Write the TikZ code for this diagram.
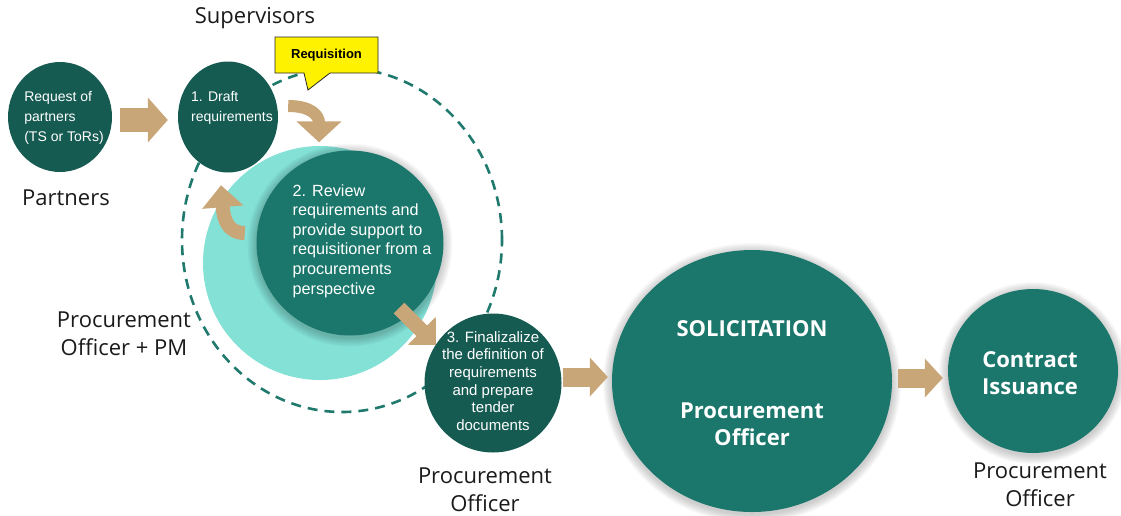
\documentclass[tikz,border=0pt]{standalone}
\usepackage{fontspec}
\setmainfont{Open Sans}
\newfontfamily\stepfont{Liberation Sans}
\usetikzlibrary{shapes.geometric,shapes.callouts,arrows.meta,calc}
\definecolor{darkteal}{HTML}{165B52}
\definecolor{midteal}{HTML}{1B776B}
\definecolor{lightteal}{HTML}{83E1D6}
\definecolor{arrowtan}{HTML}{C9A678}
\definecolor{dashteal}{HTML}{1F7A6D}
\definecolor{labelgray}{HTML}{1A1A1A}
% soft halo: stacked translucent ellipses around a centre (#1), radii #2 and #3
\newcommand\softhalo[3]{%
  \foreach \k in {1,...,9}{
    \fill[black, opacity=0.022] ($(#1)+(0,2)$) ellipse [x radius=#2+\k, y radius=#3+\k];
  }}
\begin{document}
\begin{tikzpicture}[x=1pt,y=-1pt,
  disc/.style={ellipse, inner sep=0pt, draw=none},
  darkdisc/.style={disc, fill=darkteal},
  middisc/.style={disc, fill=midteal},
  steptext/.style={text=white, font=\stepfont\fontsize{14}{20}\selectfont, inner sep=0pt},
  role/.style={text=labelgray, font=\fontsize{22}{28}\selectfont, align=center, inner sep=0pt},
  boldtext/.style={text=white, font=\bfseries\fontsize{22}{27}\selectfont, align=center, inner sep=0pt},
  bigarrow/.style={draw=arrowtan, line width=24pt, -{Triangle[width=44pt,length=20pt]}},
  midarrow/.style={draw=arrowtan, line width=19pt, -{Triangle[width=38pt,length=18pt]}},
  bendarrow/.style={draw=arrowtan, line width=12pt, -{Triangle[width=44pt,length=21pt]}},
]
\useasboundingbox (0,0) rectangle (1121,515);

% centres of the discs that carry a halo
\coordinate (reviewc) at (350,243);
\coordinate (solc) at (752,381);
\coordinate (contractc) at (1033,371);

% background ring and dashed loop around the review steps
\node[disc, fill=lightteal, minimum width=234pt, minimum height=234pt] (ring) at (320,263) {};
\node[disc, draw=dashteal, line width=2.6pt, dash pattern=on 10pt off 7pt,
      minimum width=320pt, minimum height=344pt] (loop) at (342,240) {};

% halos
\softhalo{reviewc}{93.5}{92.5}
\softhalo{solc}{140}{131}
\softhalo{contractc}{85}{82}

% process discs
\node[middisc, minimum width=187pt, minimum height=185pt] (review) at (reviewc) {};
\node[darkdisc, minimum width=104pt, minimum height=110pt] (req) at (60,117) {};
\node[darkdisc, minimum width=100pt, minimum height=111pt] (draft) at (228,117) {};
\node[darkdisc, minimum width=137pt, minimum height=139pt] (final) at (493,383) {};
\node[middisc, minimum width=280pt, minimum height=262pt] (sol) at (solc) {};
\node[middisc, minimum width=170pt, minimum height=164pt] (contract) at (contractc) {};

% texts inside the discs
\node[steptext, align=left] (reqtext) at (64,118) {Request of\\partners\\(TS or ToRs)};
\node[steptext, align=left] (drafttext) at (232,108) {1. Draft\\requirements};
\node[steptext, align=left, font=\stepfont\fontsize{16.2}{19.6}\selectfont] (reviewtext) at (362,241)
  {2. Review\\requirements and\\provide support to\\requisitioner from a\\procurements\\perspective};
\node[steptext, align=center, font=\stepfont\fontsize{15}{17.6}\selectfont] (finaltext) at (493,381)
  {3. Finalizalize\\the definition of\\requirements\\and prepare\\tender\\documents};
\node[boldtext] (soltitle) at (752,329) {SOLICITATION};
\node[boldtext] (solrole) at (752,424.5) {Procurement\\Officer};
\node[boldtext] (contracttext) at (1030,373) {Contract\\Issuance};

% role labels
\node[role] (supervisors) at (255,18) {Supervisors};
\node[role] (partners) at (66,198) {Partners};
\node[role] (pmrole) at (124,334) {Procurement\\Officer + PM};
\node[role] (finalrole) at (485,490) {Procurement\\Officer};
\node[role] (contractrole) at (1040,485) {Procurement\\Officer};

% requisition callout
\node[rectangle callout, draw=black!85, fill=yellow, line width=0.8pt,
      minimum width=103pt, minimum height=36pt, inner sep=0pt,
      callout absolute pointer={(308,90)}, callout pointer width=26pt,
      font=\stepfont\bfseries\fontsize{13}{15}\selectfont] (tag) at (326.5,55) {Requisition};

% flow arrows
\draw[bigarrow] ($(req.east)+(8,3)$) -- ($(draft.west)+(-10,3)$);
\draw[bendarrow] ($(draft.east)+(10,-11)$) .. controls +(24,0) and +(0,-26) .. ($(review.north)+(-31,-8)$);
\draw[draw=arrowtan, line width=14pt, -{Triangle[width=40pt,length=22pt]}]
  ($(review.west)+(-11.5,-10)$) .. controls +(-22,0) and +(2,24) .. ($(draft.south)+(-7,12.5)$);
\draw[draw=arrowtan, line width=15pt, -{Triangle[width=38pt,length=20pt]}]
  ($(review.center)+(49,65)$) -- ($(final.center)+(-57,-38)$);
\draw[midarrow] ($(final.east)+(1,-6)$) -- ($(sol.west)+(-4,-4)$);
\draw[midarrow] ($(sol.east)+(6,-3)$) -- ($(contract.west)+(-5,7)$);
\end{tikzpicture}
\end{document}
